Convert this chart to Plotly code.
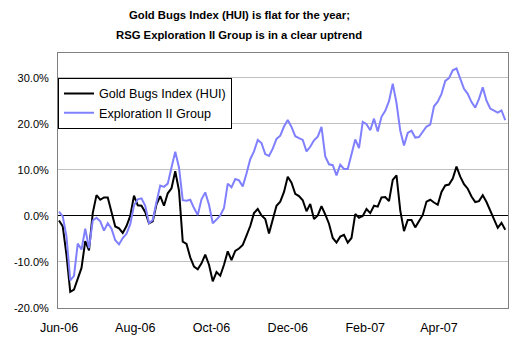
import plotly.graph_objects as go
import pandas as pd

# Sample dates (every 3 calendar days from 1 Jun 2006)
dates = pd.date_range("2006-06-01", periods=120, freq="3D")

# Gold Bugs Index (HUI), % change since start
hui = [-1.0, -2.3, -8.5, -16.5, -16.0, -13.8, -11.3, -5.5, -7.5, 0.6,
       4.5, 3.5, 4.0, 4.0, 0.8, -2.3, -2.7, -3.7, -2.2, 0.0,
       4.4, 2.3, 2.2, 0.8, -1.6, -1.2, 2.5, 4.3, 2.2, 4.9,
       6.0, 9.7, 5.5, -5.6, -6.1, -9.0, -11.0, -11.6, -10.3, -8.4,
       -10.6, -14.2, -12.2, -13.0, -10.6, -7.7, -9.6, -7.6, -7.1, -6.3,
       -4.3, -2.2, 0.6, 1.5, 0.1, -0.7, -3.8, -0.9, 2.2, 3.1,
       5.2, 8.5, 7.2, 4.8, 4.3, 3.4, 1.0, 2.6, -0.7, 0.1,
       2.1, 0.3, -1.7, -4.8, -5.8, -4.5, -4.1, -5.8, -4.8, 0.4,
       -0.4, 0.0, 1.5, 0.6, 2.2, 2.0, 4.0, 4.1, 3.2, 7.8,
       8.8, 1.2, -3.3, -0.9, -0.9, -2.5, -1.0, 0.2, 3.1, 3.5,
       2.9, 2.4, 5.2, 6.6, 6.8, 8.1, 10.7, 8.5, 6.9, 5.9,
       4.2, 3.0, 3.2, 4.5, 3.0, 1.1, -0.4, -2.6, -1.5, -3.0]

# RSG Exploration II Group, % change since start
expl = [0.9, -0.1, -4.5, -14.0, -13.0, -6.0, -7.3, -2.8, -7.0, -1.0,
        -0.4, -1.2, -3.2, -1.6, -2.8, -5.3, -6.2, -4.8, -3.9, -1.8,
        2.3, 3.6, 3.8, 2.2, -1.6, -0.9, 3.0, 6.6, 6.3, 7.0,
        10.5, 13.9, 10.5, 3.4, 3.3, 3.5, 1.7, 0.2, 3.6, 5.1,
        2.4, -1.6, -0.8, 0.1, 1.7, 7.0, 6.2, 8.0, 7.7, 6.4,
        9.2, 12.3, 14.0, 16.5, 15.8, 13.4, 13.0, 14.6, 16.7, 17.4,
        19.4, 20.8, 19.3, 17.3, 16.9, 16.5, 14.0, 15.0, 16.4, 17.2,
        19.3, 12.9, 11.2, 11.0, 8.8, 11.1, 10.2, 10.2, 13.4, 16.6,
        14.7, 20.4, 19.9, 18.6, 21.1, 18.3, 21.5, 22.8, 24.9, 28.7,
        24.5, 18.5, 15.3, 18.0, 18.5, 17.0, 17.1, 18.4, 19.4, 19.8,
        23.8, 24.8, 26.5, 29.3, 29.9, 31.6, 32.0, 29.8, 27.6, 26.5,
        24.7, 23.5, 25.4, 27.9, 25.0, 23.3, 22.9, 22.4, 22.9, 20.8]

x_tick_dates = ["2006-06-01", "2006-08-01", "2006-10-01", "2006-12-01", "2007-02-01", "2007-04-01"]
x_tick_labels = ["Jun-06", "Aug-06", "Oct-06", "Dec-06", "Feb-07", "Apr-07"]
y_tick_vals = [-20, -10, 0, 10, 20, 30]
y_tick_labels = ["-20.0%", "-10.0%", "0.0%", "10.0%", "20.0%", "30.0%"]

FONT = "Liberation Sans, Arial, sans-serif"
y_min, y_max = -20, 35.36
x_range = ["2006-05-31 04:48", "2007-05-26 04:48"]

fig = go.Figure()
fig.add_trace(go.Scatter(x=dates, y=hui, mode="lines", name="Gold Bugs Index (HUI)",
                         line=dict(color="#000000", width=2)))
fig.add_trace(go.Scatter(x=dates, y=expl, mode="lines", name="Exploration II Group",
                         line=dict(color="#8080FF", width=2)))

fig.update_layout(
    width=528, height=350,
    margin=dict(l=58, r=20, t=53, b=42),
    paper_bgcolor="white", plot_bgcolor="white",
    font=dict(family=FONT, color="black"),
    showlegend=True,
    legend=dict(x=0, y=(30 - y_min) / (y_max - y_min), xanchor="left", yanchor="top",
                bgcolor="white", bordercolor="black", borderwidth=1,
                font=dict(size=12.6, family=FONT), tracegroupgap=0),
    xaxis=dict(type="date", range=x_range, tickvals=x_tick_dates, ticktext=x_tick_labels,
               showgrid=False, showline=True, linecolor="#808080", linewidth=1, mirror=True,
               ticks="", tickfont=dict(size=12.5, family=FONT), ticklabelstandoff=8),
    xaxis2=dict(type="date", range=x_range, overlaying="x", anchor="free",
                position=(0 - y_min) / (y_max - y_min), tickvals=x_tick_dates,
                showticklabels=False, ticks="inside", ticklen=3, tickcolor="black",
                showline=False, showgrid=False, zeroline=False, layer="below traces"),
    yaxis=dict(range=[y_min, y_max], tickvals=y_tick_vals, ticktext=y_tick_labels,
               showgrid=True, gridcolor="#C0C0C0", gridwidth=1,
               showline=True, linecolor="#808080", linewidth=1, mirror=True,
               zeroline=True, zerolinecolor="black", zerolinewidth=1,
               ticks="", tickfont=dict(size=11, family=FONT), ticklabelstandoff=6),
    annotations=[
        dict(text="<b>Gold Bugs Index (HUI) is flat for the year;</b>", xref="paper", yref="paper",
             x=(239 - 58) / 450, y=(308 - 15) / 255, xanchor="center", yanchor="middle",
             showarrow=False, font=dict(size=11.3, family=FONT)),
        dict(text="<b>RSG Exploration II Group is in a clear uptrend</b>", xref="paper", yref="paper",
             x=(239 - 58) / 450, y=(308 - 34.5) / 255, xanchor="center", yanchor="middle",
             showarrow=False, font=dict(size=11.3, family=FONT)),
    ],
)

fig.write_html("out.html")
